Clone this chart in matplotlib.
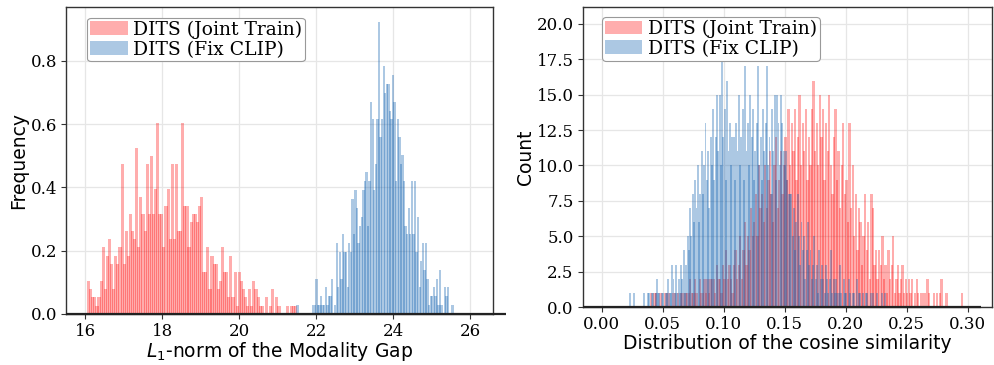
import numpy as np
import matplotlib
matplotlib.use('Agg')
import matplotlib.pyplot as plt

LABELS = ['DITS (Joint Train)', 'DITS (Fix CLIP)']

# left panel: L1-norm of the modality gap (counts per bin, drawn as density)
GAP_JOINT_RANGE = (16.06, 21.50)
GAP_JOINT_COUNTS = [
    4, 3, 2, 2, 1, 2, 4, 8, 3, 7, 9, 6, 3, 7, 6, 8, 18, 6, 10, 7,
    12, 10, 9, 20, 8, 14, 12, 10, 18, 12, 19, 12, 15, 23, 12, 12, 8, 13, 15, 9,
    18, 9, 18, 10, 10, 23, 13, 13, 8, 11, 12, 12, 11, 13, 14, 5, 5, 8, 3, 7,
    6, 6, 3, 4, 8, 5, 5, 2, 7, 2, 5, 1, 5, 4, 3, 2, 1, 3, 1, 4,
    3, 2, 1, 1, 0, 2, 0, 1, 3, 0, 2, 1, 0, 0, 0, 1, 0, 1, 1, 1,
]
GAP_FIX_RANGE = (21.50, 25.57)
GAP_FIX_COUNTS = [
    1, 0, 0, 0, 0, 0, 0, 0, 0, 0,
    1, 1, 4, 1, 1, 2, 1, 1, 3, 1, 2, 2, 4, 0, 1,
    8, 3, 7, 4, 9, 7, 7, 3, 8, 7, 13, 9, 14, 12, 8, 10, 11, 14, 15, 16, 10,
    15, 24, 22, 14, 17, 22, 33, 20, 22, 28, 25, 26, 26, 23, 22, 27, 24, 15, 22, 20,
    17, 18, 15, 10, 9, 12, 9, 15, 9, 15, 7, 11, 3, 6, 8, 5, 8, 4, 1, 2,
    2, 3, 2, 4, 1, 5, 1, 0, 3, 2, 3, 0, 0, 1,
]

# right panel: cosine similarity (raw counts)
COS_JOINT_RANGE = (0.040, 0.296)
COS_JOINT_COUNTS = [
    1, 0, 1, 1, 0, 0, 1, 0, 0, 1, 0, 1, 0, 0, 1, 1, 0, 1, 0, 1, 1, 0, 1, 1,
    1, 2, 1, 1, 2, 1, 0, 2, 1, 1, 2, 1, 2, 1, 2, 2,
    2, 1, 3, 2, 2, 1, 3, 2, 4, 2, 3, 2, 1, 3, 4, 2,
    3, 5, 2, 4, 6, 3, 5, 4, 7, 5, 6, 8, 5, 10, 7,
    8, 6, 10, 7, 9, 11, 8, 6, 10, 12, 7, 9, 11, 8, 10,
    12, 9, 14, 10, 13, 11, 14, 9, 12, 15, 10, 13, 11, 14, 9, 12, 10, 14, 16, 11,
    13, 10, 15, 12, 14, 9, 13, 11, 15, 10, 8, 12, 14, 9, 11, 7, 10, 13, 8, 9,
    6, 13, 7, 10, 5, 8, 4, 7, 6, 3, 5, 8, 4, 6, 2, 8, 7, 3, 4, 2,
    4, 3, 5, 2, 3, 1, 4, 2, 3, 5, 1, 2, 3, 1, 2, 3, 1, 2, 1, 2,
    1, 2, 0, 1, 2, 1, 0, 1, 0, 1, 0, 2, 1, 0, 0, 1, 0, 1, 0, 1,
    2, 0, 0, 1, 0, 0, 0, 0, 0, 0, 0, 0, 0, 1,
]
COS_FIX_RANGE = (0.0226, 0.2326)
COS_FIX_COUNTS = [
    1, 0, 0, 1, 0, 0, 0, 0, 0, 0, 0, 1, 0, 0, 1, 1, 0, 1, 1, 0,
    1, 2, 1, 1, 0, 1, 1, 0, 1, 1, 2, 1, 1, 3, 2, 1, 3, 1, 2, 1,
    3, 2, 4, 1, 3,
    5, 4, 7, 5, 8, 6, 9, 7, 10, 6, 8,
    11, 8, 10, 13, 9, 11, 7, 12, 10, 14, 9, 12, 15, 11, 15,
    10, 18, 12, 14, 9, 16, 11, 13, 10, 12,
    12, 9, 13, 11, 15, 10, 12, 14, 9, 17, 11, 13, 10, 15, 12, 14, 9, 11, 13, 17,
    10, 12, 9, 14, 11, 13, 17, 10, 12, 8, 14, 11, 15, 9, 15,
    13, 10, 15, 13, 11, 10, 11, 9, 8, 8,
    8, 5, 7, 4, 6, 8, 5, 3, 6, 4, 5, 2, 4, 6, 3,
    4, 2, 3, 5, 2, 3, 1, 4, 2, 3, 2, 1, 3, 2, 1, 2, 4, 1, 2, 1,
    2, 1, 1, 3, 1, 0, 2, 1, 1, 0, 2, 1, 0, 1, 1, 0, 2, 0, 1, 1,
    0, 1, 0, 1, 1, 0, 0, 1, 0, 1, 0, 0, 1, 0, 0, 0, 1, 0, 1,
]

RED = '#ff1414'
BLUE = '#1262b0'

plt.rcParams['font.family'] = 'DejaVu Serif'
plt.rcParams['mathtext.fontset'] = 'dejavusans'


def draw_hist(ax, rng, counts, color, label, density=False):
    counts = np.asarray(counts, dtype=float)
    edges = np.linspace(rng[0], rng[1], len(counts) + 1)
    w = edges[1] - edges[0]
    heights = counts / (counts.sum() * w) if density else counts
    centers = (edges[:-1] + edges[1:]) / 2
    # bars a bit wider than the bin so that neighbours overlap
    return ax.bar(centers, heights, width=w * 1.5, color=color, alpha=0.35,
                  linewidth=0, label=label, zorder=2)


def style_axes(ax, base_end):
    ax.grid(True, color='#e6e6e6', linewidth=0.9, zorder=0)
    ax.set_axisbelow(True)
    for s in ax.spines.values():
        s.set_color('#333333')
        s.set_linewidth(1.0)
    # heavy dark baseline along y = 0 (runs a little past the frame on the left plot)
    x0 = ax.get_xlim()[0]
    ax.plot([x0, base_end], [0, 0], color='#222222', linewidth=1.6,
            clip_on=False, zorder=5, solid_capstyle='butt')
    ax.tick_params(direction='out', length=3.5, width=0.8, color='#333333',
                   labelsize=12, pad=3)
    leg = ax.legend(fontsize=13.5, loc='upper left', borderaxespad=0,
                    labelspacing=0.1, borderpad=0.15, handletextpad=0.3,
                    handlelength=2.0, handleheight=0.75, framealpha=1,
                    edgecolor='#999999', fancybox=True)
    leg.get_frame().set_linewidth(0.8)
    return leg


fig = plt.figure(figsize=(9.95, 3.65), dpi=100)
ax1 = fig.add_axes([66 / 995, 51 / 365, 427 / 995, 307 / 365])
ax2 = fig.add_axes([582.7 / 995, 58 / 365, 409.3 / 995, 300 / 365])

# left
draw_hist(ax1, GAP_JOINT_RANGE, GAP_JOINT_COUNTS, RED, LABELS[0], density=True)
draw_hist(ax1, GAP_FIX_RANGE, GAP_FIX_COUNTS, BLUE, LABELS[1], density=True)
ax1.set_xlim(15.5, 26.6)
ax1.set_ylim(0, 0.97)
ax1.set_xticks([16, 18, 20, 22, 24, 26])
ax1.set_yticks([0.0, 0.2, 0.4, 0.6, 0.8])
ax1.set_xlabel('$L_1$-norm of the Modality Gap', fontfamily='DejaVu Sans',
               fontsize=13.5, labelpad=0)
ax1.set_ylabel('Frequency', fontfamily='DejaVu Sans', fontsize=13.5, labelpad=1.5)
leg1 = style_axes(ax1, 26.95)
leg1.set_bbox_to_anchor((0.05, 0.965))

# right
draw_hist(ax2, COS_JOINT_RANGE, COS_JOINT_COUNTS, RED, LABELS[0])
draw_hist(ax2, COS_FIX_RANGE, COS_FIX_COUNTS, BLUE, LABELS[1])
ax2.set_xlim(-0.0156, 0.32)
ax2.set_ylim(0, 21.2)
ax2.set_xticks(np.arange(0, 0.31, 0.05))
ax2.set_xticklabels(['0.00', '0.05', '0.10', '0.15', '0.20', '0.25', '0.30'])
ax2.set_yticks(np.arange(0, 20.1, 2.5))
ax2.set_yticklabels([f'{v:.1f}' for v in np.arange(0, 20.1, 2.5)])
ax2.set_xlabel('Distribution of the cosine similarity', fontfamily='DejaVu Sans',
               fontsize=13.5, labelpad=1)
ax2.set_ylabel('Count', fontfamily='DejaVu Sans', fontsize=13.5, labelpad=1)
leg2 = style_axes(ax2, 0.311)
leg2.set_bbox_to_anchor((0.047, 0.967))

fig.savefig('out.png', dpi=100)
